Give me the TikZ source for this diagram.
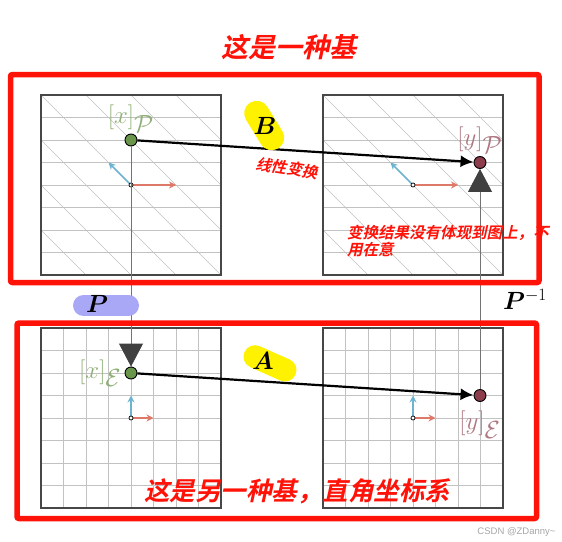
\documentclass[tikz,border=0pt]{standalone}
\usepackage{bm}
\usepackage{fontspec}
\newfontfamily\cjk{Noto Sans CJK SC Bold}[FakeSlant=0.22]
\newfontfamily\wmfont{Liberation Sans}
\usetikzlibrary{arrows.meta,positioning}

\definecolor{xgreen}{RGB}{106,150,75}
\definecolor{ymaroon}{RGB}{140,60,75}
\definecolor{basisred}{RGB}{222,120,105}
\definecolor{basisblue}{RGB}{110,180,208}
\definecolor{notered}{RGB}{255,18,8}
\definecolor{pillblue}{RGB}{168,168,246}

\tikzset{
  panelframe/.style={draw=black!72, line width=1.3pt},
  gridline/.style={draw=black!24, line width=0.7pt},
  vecred/.style={basisred, line width=1.6pt, -{Stealth[length=7pt,width=7pt]}},
  vecblue/.style={basisblue, line width=1.6pt, -{Stealth[length=7pt,width=7pt]}},
  origindot/.style={circle, draw=black, fill=white, line width=0.7pt, minimum size=4pt, inner sep=0pt},
  dotx/.style={circle, draw=black, fill=xgreen, line width=0.9pt, minimum size=12pt, inner sep=0pt},
  doty/.style={circle, draw=black, fill=ymaroon, line width=0.9pt, minimum size=12pt, inner sep=0pt},
  transarrow/.style={black, line width=2.2pt, -{Latex[length=13pt,width=12pt]}},
  changeline/.style={black!55, line width=0.9pt, -{Triangle[length=23pt,width=24pt,color=black!75]}},
  lblx/.style={text=xgreen!75!white, font=\fontsize{26}{30}\selectfont, inner sep=1pt},
  lbly/.style={text=ymaroon!70!white, font=\fontsize{26}{30}\selectfont, inner sep=1pt},
  boxred/.style={draw=notered, line width=5.5pt, rounded corners=2pt},
  pill/.style={line cap=round},
  cjknote/.style={text=notered, font=\cjk\fontsize{#1}{#1}\selectfont},
}

\begin{document}
\begin{tikzpicture}[x=1pt,y=-1pt]
\useasboundingbox (0,0) rectangle (562,541);

% top panels: basis P
\foreach \cx in {131,413} {
  \begin{scope}[shift={(\cx,185)}]
    \clip (-90,-90) rectangle (90,90);
    \foreach \k in {-3,...,3} \draw[gridline] (-90,\k*22.5) -- (90,\k*22.5);
    \foreach \k in {-4,...,4} \draw[gridline] (\k*45-90,-90) -- (\k*45+90,90);
  \end{scope}
  \draw[panelframe] (\cx-90,95) rectangle (\cx+90,275);
  \draw[vecred] (\cx,185) -- ++(45,0);
  \draw[vecblue] (\cx,185) -- ++(-22.5,-22.5);
  \node[origindot] at (\cx,185) {};
}

% bottom panels: standard basis
\foreach \cx in {131,413} {
  \foreach \k in {-3,...,3} {
    \draw[gridline] (\cx-90,418+\k*22.5) -- (\cx+90,418+\k*22.5);
    \draw[gridline] (\cx+\k*22.5,328) -- (\cx+\k*22.5,508);
  }
  \draw[panelframe] (\cx-90,328) rectangle (\cx+90,508);
  \draw[vecred] (\cx,418) -- ++(22.5,0);
  \draw[vecblue] (\cx,418) -- ++(0,-22.5);
  \node[origindot] at (\cx,418) {};
}

% vectors
\node[dotx] (xP) at (131,140) {};
\node[doty] (yP) at (480,162.5) {};
\node[dotx] (xE) at (131,373) {};
\node[doty] (yE) at (480,395.5) {};

\draw[changeline] (xP) -- (xE);
\draw[changeline] (yE) -- (yP);
\draw[transarrow] (xP) -- (yP);
\draw[transarrow] (xE) -- (yE);

\node[lblx, above=0pt of xP] (xPlbl) {$[x]_{\textstyle\mathcal{P}}$};
\node[lbly, above=1pt of yP] (yPlbl) {$[y]_{\textstyle\mathcal{P}}$};
\node[lblx, left=2pt of xE] (xElbl) {$[x]_{\textstyle\mathcal{E}}$};
\node[lbly, below=8pt of yE] (yElbl) {$[y]_{\textstyle\mathcal{E}}$};

% matrices
\draw[pill, pillblue, line width=21pt] (83.5,305.5) -- (128.5,305.5);
\node[font=\fontsize{25}{28}\selectfont] (Pm) at (97,304) {$\bm{P}$};
\node[font=\fontsize{25}{28}\selectfont] (Pinv) at (525,299) {$\bm{P}^{-1}$};
\draw[pill, yellow, line width=25pt] (256.7,113.3) -- (271.7,137.7);
\node[font=\fontsize{25}{28}\selectfont] (Bm) at (265,126) {$\bm{B}$};
\draw[pill, yellow, line width=23pt] (255,356.7) -- (285,370);
\node[font=\fontsize{23}{26}\selectfont] (Am) at (263,361) {$\bm{A}$};

% notes
\draw[boxred] (10.5,74.5) rectangle (539,282.5);
\draw[boxred] (17,323) rectangle (536.5,518.5);
\node[cjknote=27] (title1) at (289,47) {这是一种基};
\node[cjknote=25.5] (title2) at (297,491) {这是另一种基，直角坐标系};
\node[cjknote=15.5, rotate=-9, inner sep=1pt] (lin) at (287,168) {线性变换};
\node[cjknote=15.5, align=left, anchor=west, inner sep=0pt] (note) at (347,241)
  {变换结果没有体现到图上，不\\[1pt]用在意};
\node[text=black!35, font=\wmfont\fontsize{9.5}{10}\selectfont, anchor=east] (wm) at (559,532) {CSDN @ZDanny\textasciitilde};
\end{tikzpicture}
\end{document}
